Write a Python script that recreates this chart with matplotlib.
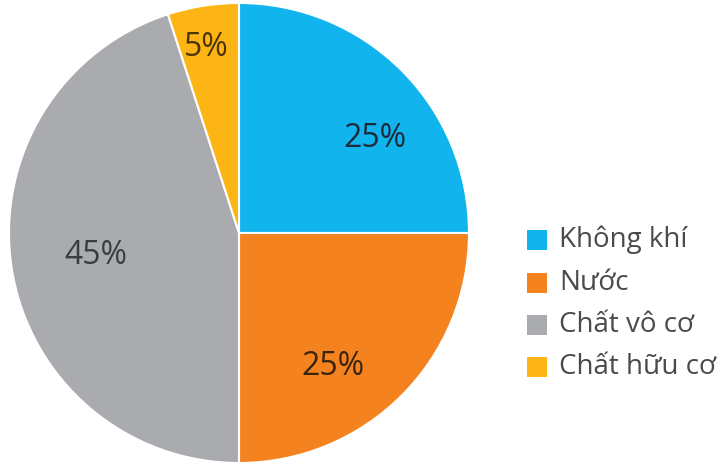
import numpy as np
import matplotlib
matplotlib.use("Agg")
import matplotlib.pyplot as plt
from matplotlib.patches import Rectangle

# data
labels = ["Không khí", "Nước", "Chất vô cơ", "Chất hữu cơ"]
values = [25, 25, 45, 5]
colors = ["#12b4ee", "#f4821f", "#a9abae", "#fdb515"]
pct_colors = ["#1d2a3a", "#3a2410", "#3a3c40", "#4a3508"]

plt.rcParams['font.family'] = ['Open Sans', 'DejaVu Sans']

W, H = 725, 465
fig = plt.figure(figsize=(W / 100, H / 100), dpi=100)
ax = fig.add_axes([9 / W, 2 / H, 460 / W, 460 / H])

wedges, texts = ax.pie(values, colors=colors, startangle=90, counterclock=False,
                       wedgeprops=dict(edgecolor="white", linewidth=1.5))
ax.set_aspect("equal")
ax.set_xlim(-1, 1)
ax.set_ylim(-1, 1)

# label distance and angular nudge per slice
lab_r = [0.72, 0.71, 0.63, 0.82]
lab_shift = [-10, -10, 0, 1]
for w, v, r, s, c in zip(wedges, values, lab_r, lab_shift, pct_colors):
    mid = np.deg2rad((w.theta1 + w.theta2) / 2 + s)
    ax.text(r * np.cos(mid), r * np.sin(mid), f"{v}%", ha="center", va="center",
            fontsize=23, color=c)

# legend drawn by hand: square + label per row
x0, y0, step, sq = 527, 240, 42.5, 20
for i, (lab, col) in enumerate(zip(labels, colors)):
    yc = y0 + i * step
    fig.patches.append(Rectangle((x0 / W, 1 - (yc + sq / 2) / H), sq / W, sq / H,
                                 transform=fig.transFigure, facecolor=col,
                                 edgecolor="none"))
    fig.text((x0 + sq + 12) / W, 1 - yc / H, lab, ha="left", va="center",
             fontsize=20, color="#4a4a4c")

fig.savefig("out.png", dpi=100)
